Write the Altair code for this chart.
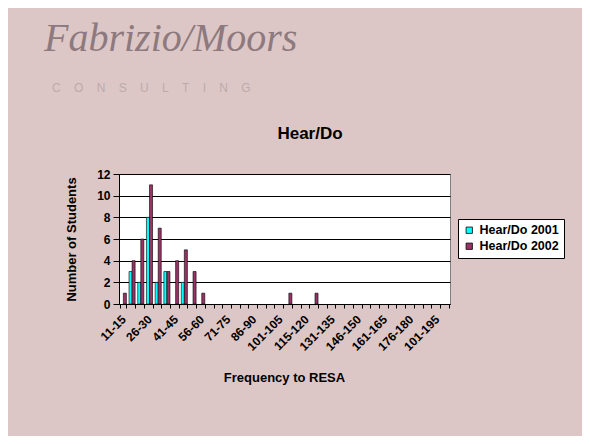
import json
import altair as alt
import pandas as pd

categories = [
    "11-15", "16-20", "21-25", "26-30", "31-35", "36-40", "41-45", "46-50",
    "51-55", "56-60", "61-65", "66-70", "71-75", "76-80", "81-85", "86-90",
    "91-95", "96-100", "101-105", "106-110", "111-115", "115-120", "121-125",
    "126-130", "131-135", "136-140", "141-145", "146-150", "151-155",
    "156-160", "161-165", "166-170", "171-175", "176-180", "181-185",
    "186-190", "101-195", "196-200",
]
values_2001 = [0, 3, 2, 8, 2, 3, 0, 2, 0, 0, 0, 0, 0, 0, 0, 0, 0, 0, 0,
               0, 0, 0, 0, 0, 0, 0, 0, 0, 0, 0, 0, 0, 0, 0, 0, 0, 0, 0]
values_2002 = [1, 4, 6, 11, 7, 3, 4, 5, 3, 1, 0, 0, 0, 0, 0, 0, 0, 0, 0,
               1, 0, 0, 1, 0, 0, 0, 0, 0, 0, 0, 0, 0, 0, 0, 0, 0, 0, 0]
series_names = ["Hear/Do 2001", "Hear/Do 2002"]
series_colors = ["#00FFFF", "#993366"]
shown_labels = categories[::3]

rows = []
for c, a, b in zip(categories, values_2001, values_2002):
    rows.append({"range": c, "series": series_names[0], "value": a})
    rows.append({"range": c, "series": series_names[1], "value": b})
df = pd.DataFrame(rows)

FONT = "Liberation Sans, Arial, sans-serif"
label_expr = "indexof(" + json.dumps(shown_labels) + ", datum.value) >= 0 ? datum.label : ''"

bars = alt.Chart(df).transform_filter("datum.value > 0").mark_bar(
    stroke="black", strokeWidth=0.6
).encode(
    x=alt.X("range:N", sort=categories,
            scale=alt.Scale(domain=categories, paddingInner=0.3, paddingOuter=0.15),
            axis=alt.Axis(title="Frequency to RESA", labelAngle=-45,
                          labelAlign="right", labelBaseline="middle",
                          labelPadding=9, labelExpr=label_expr,
                          tickBand="extent", tickSize=4, labelOverlap=False,
                          titleY=77, titleBaseline="alphabetic",
                          titleX=165)),
    xOffset=alt.XOffset("series:N", sort=series_names),
    y=alt.Y("value:Q", scale=alt.Scale(domain=[0, 12], nice=False),
            axis=alt.Axis(title="Number of Students", values=[0, 2, 4, 6, 8, 10, 12],
                          grid=True, gridColor="black", gridWidth=1, tickSize=6,
                          labelPadding=3, titlePadding=18)),
    color=alt.Color("series:N", sort=series_names,
                    scale=alt.Scale(domain=series_names, range=series_colors),
                    legend=alt.Legend(title=None, orient="none", legendX=339, legendY=45,
                                      strokeColor="black", fillColor="white",
                                      padding=5, symbolType="square", symbolSize=40,
                                      symbolStrokeColor="black", symbolStrokeWidth=0.8,
                                      labelFont=FONT, labelFontWeight="bold",
                                      labelFontSize=12.5, labelColor="black",
                                      rowPadding=3)),
)

title = alt.Chart(pd.DataFrame({"t": ["Hear/Do"]})).mark_text(
    font=FONT, fontSize=17, fontWeight="bold", color="black",
    align="center", baseline="alphabetic"
).encode(text="t:N", x=alt.value(191), y=alt.value(-35))

logo = alt.Chart(pd.DataFrame({"t": ["Fabrizio/Moors"]})).mark_text(
    font="Liberation Serif, DejaVu Serif, serif", fontStyle="italic", fontSize=40,
    color="#8d7a7e", align="left", baseline="alphabetic"
).encode(text="t:N", x=alt.value(-75), y=alt.value(-123))

NB = "\u00a0" * 4
consulting = alt.Chart(pd.DataFrame({"t": [NB.join("CONSULTING")]})).mark_text(
    font=FONT, fontSize=12, color="#bcaaab", align="left", baseline="alphabetic"
).encode(text="t:N", x=alt.value(-67), y=alt.value(-82))

chart = alt.layer(bars, title, logo, consulting).properties(
    width=331, height=130,
    autosize=alt.AutoSizeParams(type="none"),
    padding={"left": 111, "top": 166, "right": 132, "bottom": 132},
    background="#ddc7c6",
).configure_view(
    fill="white", stroke="#808080", strokeWidth=1
).configure_axis(
    domainColor="black", tickColor="black", labelColor="black", titleColor="black",
    labelFont=FONT, titleFont=FONT, labelFontWeight="bold", titleFontWeight="bold",
    labelFontSize=12, titleFontSize=13,
)

chart.save("out.html", embed_options={"renderer": "svg", "actions": False})
